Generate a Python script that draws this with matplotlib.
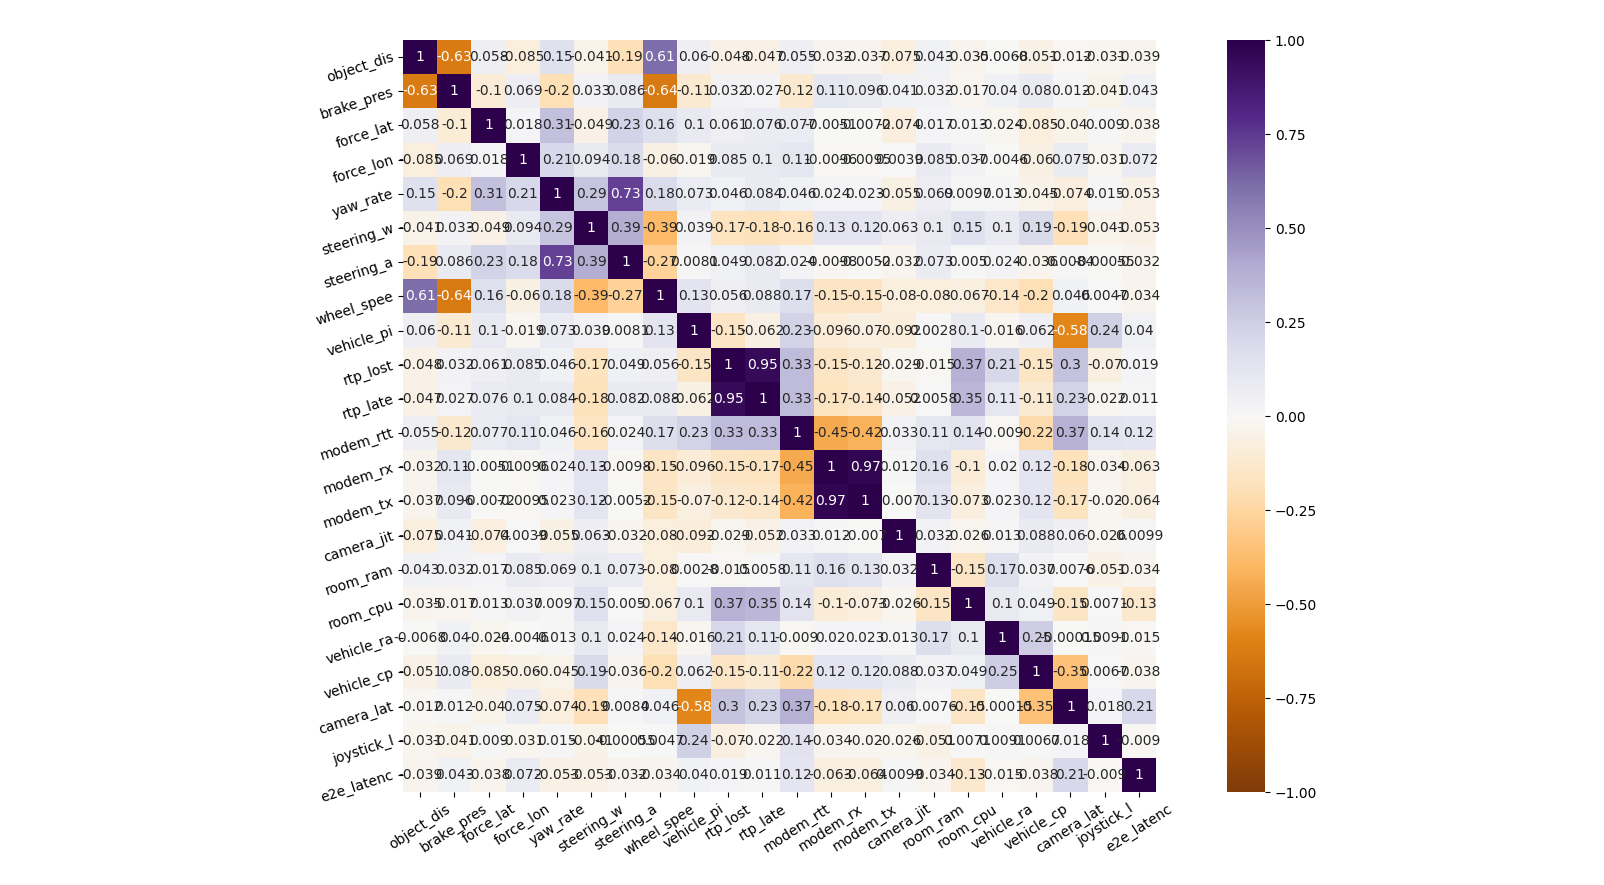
import matplotlib
matplotlib.use("Agg")
import matplotlib.pyplot as plt
import seaborn as sns
import numpy as np

labels = ["object_dis", "brake_pres", "force_lat", "force_lon", "yaw_rate", "steering_w",
          "steering_a", "wheel_spee", "vehicle_pi", "rtp_lost", "rtp_late", "modem_rtt",
          "modem_rx", "modem_tx", "camera_jit", "room_ram", "room_cpu", "vehicle_ra",
          "vehicle_cp", "camera_lat", "joystick_l", "e2e_latenc"]

corr_rows = [
    [1, -0.63, 0.058, -0.085, 0.15, -0.041, -0.19, 0.61, 0.06, -0.048, -0.047, 0.055, -0.032, -0.037, -0.075, 0.043, -0.035, -0.0068, -0.051, -0.012, -0.031, -0.039],
    [-0.63, 1, -0.1, 0.069, -0.2, 0.033, 0.086, -0.64, -0.11, 0.032, 0.027, -0.12, 0.11, 0.096, 0.041, 0.032, -0.017, 0.04, 0.08, 0.012, -0.041, 0.043],
    [0.058, -0.1, 1, 0.018, 0.31, -0.049, 0.23, 0.16, 0.1, 0.061, 0.076, 0.077, -0.0051, -0.0072, -0.074, 0.017, 0.013, -0.024, -0.085, -0.04, 0.009, -0.038],
    [-0.085, 0.069, 0.018, 1, 0.21, 0.094, 0.18, -0.06, -0.019, 0.085, 0.1, 0.11, -0.0096, -0.0095, 0.0039, 0.085, 0.037, -0.0046, -0.06, 0.075, -0.031, 0.072],
    [0.15, -0.2, 0.31, 0.21, 1, 0.29, 0.73, 0.18, 0.073, 0.046, 0.084, 0.046, 0.024, 0.023, -0.055, 0.069, 0.0097, 0.013, -0.045, -0.074, 0.015, -0.053],
    [-0.041, 0.033, -0.049, 0.094, 0.29, 1, 0.39, -0.39, 0.039, -0.17, -0.18, -0.16, 0.13, 0.12, 0.063, 0.1, 0.15, 0.1, 0.19, -0.19, -0.041, -0.053],
    [-0.19, 0.086, 0.23, 0.18, 0.73, 0.39, 1, -0.27, 0.0081, 0.049, 0.082, 0.024, -0.0098, -0.0052, -0.032, 0.073, 0.005, 0.024, -0.036, 0.0084, -0.00055, -0.032],
    [0.61, -0.64, 0.16, -0.06, 0.18, -0.39, -0.27, 1, 0.13, 0.056, 0.088, 0.17, -0.15, -0.15, -0.08, -0.08, -0.067, -0.14, -0.2, 0.046, 0.0047, -0.034],
    [0.06, -0.11, 0.1, -0.019, 0.073, 0.039, 0.0081, 0.13, 1, -0.15, -0.062, 0.23, -0.096, -0.07, -0.092, 0.0028, 0.1, -0.016, 0.062, -0.58, 0.24, 0.04],
    [-0.048, 0.032, 0.061, 0.085, 0.046, -0.17, 0.049, 0.056, -0.15, 1, 0.95, 0.33, -0.15, -0.12, -0.029, -0.015, 0.37, 0.21, -0.15, 0.3, -0.07, 0.019],
    [-0.047, 0.027, 0.076, 0.1, 0.084, -0.18, 0.082, 0.088, -0.062, 0.95, 1, 0.33, -0.17, -0.14, -0.052, 0.0058, 0.35, 0.11, -0.11, 0.23, -0.022, 0.011],
    [0.055, -0.12, 0.077, 0.11, 0.046, -0.16, 0.024, 0.17, 0.23, 0.33, 0.33, 1, -0.45, -0.42, 0.033, 0.11, 0.14, -0.009, -0.22, 0.37, 0.14, 0.12],
    [-0.032, 0.11, -0.0051, -0.0096, 0.024, 0.13, -0.0098, -0.15, -0.096, -0.15, -0.17, -0.45, 1, 0.97, 0.012, 0.16, -0.1, 0.02, 0.12, -0.18, -0.034, -0.063],
    [-0.037, 0.096, -0.0072, -0.0095, 0.023, 0.12, -0.0052, -0.15, -0.07, -0.12, -0.14, -0.42, 0.97, 1, -0.007, 0.13, -0.073, 0.023, 0.12, -0.17, -0.02, -0.064],
    [-0.075, 0.041, -0.074, 0.0039, -0.055, 0.063, -0.032, -0.08, -0.092, -0.029, -0.052, 0.033, 0.012, -0.007, 1, 0.032, -0.026, 0.013, 0.088, 0.06, -0.026, 0.0099],
    [0.043, 0.032, 0.017, 0.085, 0.069, 0.1, 0.073, -0.08, 0.0028, -0.015, 0.0058, 0.11, 0.16, 0.13, 0.032, 1, -0.15, 0.17, 0.037, 0.0076, -0.051, -0.034],
    [-0.035, -0.017, 0.013, 0.037, 0.0097, 0.15, 0.005, -0.067, 0.1, 0.37, 0.35, 0.14, -0.1, -0.073, -0.026, -0.15, 1, 0.1, 0.049, -0.15, 0.0071, -0.13],
    [-0.0068, 0.04, -0.024, -0.0046, 0.013, 0.1, 0.024, -0.14, -0.016, 0.21, 0.11, -0.009, 0.02, 0.023, 0.013, 0.17, 0.1, 1, 0.25, -0.00015, 0.0091, -0.015],
    [-0.051, 0.08, -0.085, -0.06, -0.045, 0.19, -0.036, -0.2, 0.062, -0.15, -0.11, -0.22, 0.12, 0.12, 0.088, 0.037, 0.049, 0.25, 1, -0.35, 0.0067, -0.038],
    [-0.012, 0.012, -0.04, 0.075, -0.074, -0.19, 0.0084, 0.046, -0.58, 0.3, 0.23, 0.37, -0.18, -0.17, 0.06, 0.0076, -0.15, -0.00015, -0.35, 1, 0.018, 0.21],
    [-0.031, -0.041, 0.009, -0.031, 0.015, -0.041, -0.00055, 0.0047, 0.24, -0.07, -0.022, 0.14, -0.034, -0.02, -0.026, -0.051, 0.0071, 0.0091, 0.0067, 0.018, 1, -0.009],
    [-0.039, 0.043, -0.038, 0.072, -0.053, -0.053, -0.032, -0.034, 0.04, 0.019, 0.011, 0.12, -0.063, -0.064, 0.0099, -0.034, -0.13, -0.015, -0.038, 0.21, -0.009, 1],
]

data = np.array(corr_rows, dtype=float)

fig = plt.figure(figsize=(16.04, 8.85), dpi=100)
ax = fig.add_axes([403 / 1604, 1 - 792 / 885, 753 / 1604, 752 / 885])
cax = fig.add_axes([1227 / 1604, 1 - 792 / 885, 38 / 1604, 752 / 885])

sns.heatmap(data, ax=ax, cbar_ax=cax, cmap="PuOr", vmin=-1, vmax=1,
            annot=True, fmt=".2g", square=False,
            xticklabels=labels, yticklabels=labels, annot_kws={"fontsize": 10})

plt.setp(ax.get_xticklabels(), rotation=33, fontsize=10)
plt.setp(ax.get_yticklabels(), rotation=18, fontsize=10, ha="right", va="center",
         rotation_mode="anchor")
cax.tick_params(labelsize=10)

fig.savefig("out.png", dpi=100)
